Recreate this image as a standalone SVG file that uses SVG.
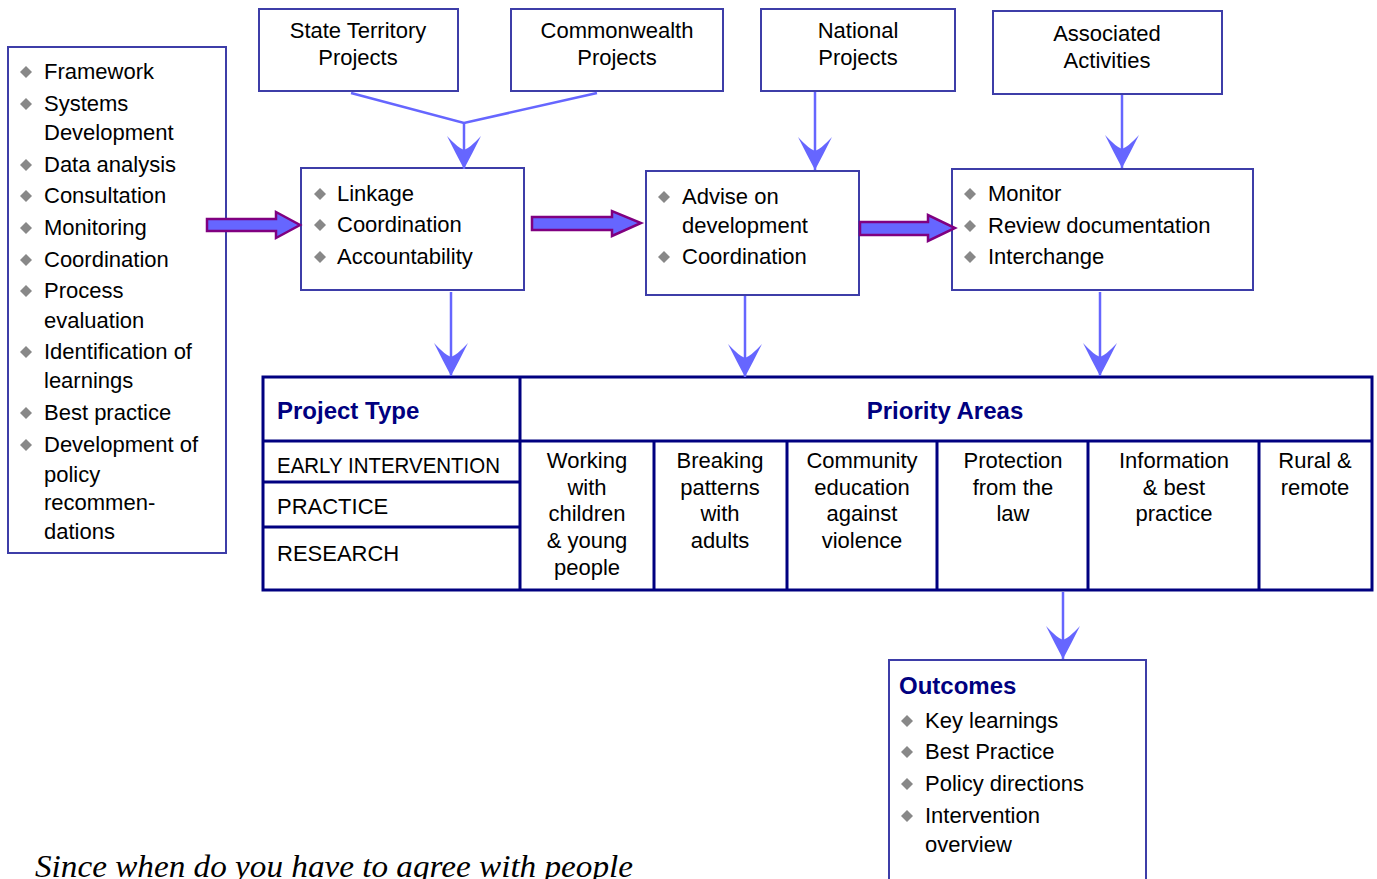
<svg xmlns="http://www.w3.org/2000/svg" width="1377" height="879" viewBox="0 0 1377 879">
<style>
.box{fill:#fff;stroke:#3d3da8;stroke-width:2}
.tbl{fill:none;stroke:#000080;stroke-width:3}
.t{font-family:"Liberation Sans",Arial,sans-serif;font-size:22px;fill:#000}
.c{text-anchor:middle}
.h{font-family:"Liberation Sans",Arial,sans-serif;font-size:24px;font-weight:bold;fill:#000080}
.ln{stroke:#6666ff;stroke-width:2.5;fill:none}
.fat{fill:#6666ff;stroke:#800080;stroke-width:2.5}
.dia{fill:#888}
</style>
<defs>
<path id="d" class="dia" d="M0,-6 L6,0 L0,6 L-6,0 Z"/>
<marker id="ah" markerUnits="userSpaceOnUse" markerWidth="36" markerHeight="36" viewBox="0 0 34 36" refX="33" refY="18" orient="auto">
<path d="M0,1 Q18,10 33,18 Q18,26 0,35 Q12,24 14,18 Q12,12 0,1 Z" fill="#6666ff"/>
</marker>
</defs>

<g id="left-box">
<rect class="box" x="8" y="47" width="218" height="506"/>
<use href="#d" x="26" y="72"/><text class="t" x="44" y="79">Framework</text>
<use href="#d" x="26" y="104"/><text class="t" x="44" y="111">Systems</text>
<text class="t" x="44" y="140">Development</text>
<use href="#d" x="26" y="165"/><text class="t" x="44" y="172">Data analysis</text>
<use href="#d" x="26" y="196"/><text class="t" x="44" y="203">Consultation</text>
<use href="#d" x="26" y="228"/><text class="t" x="44" y="235">Monitoring</text>
<use href="#d" x="26" y="260"/><text class="t" x="44" y="267">Coordination</text>
<use href="#d" x="26" y="291"/><text class="t" x="44" y="298">Process</text>
<text class="t" x="44" y="328">evaluation</text>
<use href="#d" x="26" y="352"/><text class="t" x="44" y="359">Identification of</text>
<text class="t" x="44" y="388">learnings</text>
<use href="#d" x="26" y="413"/><text class="t" x="44" y="420">Best practice</text>
<use href="#d" x="26" y="445"/><text class="t" x="44" y="452">Development of</text>
<text class="t" x="44" y="482">policy</text>
<text class="t" x="44" y="510">recommen-</text>
<text class="t" x="44" y="539">dations</text>
</g>

<g id="state-territory">
<rect class="box" x="259" y="9" width="199" height="82"/>
<text class="t c" x="358" y="38">State Territory</text>
<text class="t c" x="358" y="65">Projects</text>
</g>
<g id="commonwealth">
<rect class="box" x="511" y="9" width="212" height="82"/>
<text class="t c" x="617" y="38">Commonwealth</text>
<text class="t c" x="617" y="65">Projects</text>
</g>
<g id="national">
<rect class="box" x="761" y="9" width="194" height="82"/>
<text class="t c" x="858" y="38">National</text>
<text class="t c" x="858" y="65">Projects</text>
</g>
<g id="associated">
<rect class="box" x="993" y="11" width="229" height="83"/>
<text class="t c" x="1107" y="41">Associated</text>
<text class="t c" x="1107" y="68">Activities</text>
</g>

<g id="box-linkage">
<rect class="box" x="301" y="168" width="223" height="122"/>
<use href="#d" x="320" y="194"/><text class="t" x="337" y="201">Linkage</text>
<use href="#d" x="320" y="225"/><text class="t" x="337" y="232">Coordination</text>
<use href="#d" x="320" y="257"/><text class="t" x="337" y="264">Accountability</text>
</g>
<g id="box-advise">
<rect class="box" x="646" y="171" width="213" height="124"/>
<use href="#d" x="664" y="197"/><text class="t" x="682" y="204">Advise on</text>
<text class="t" x="682" y="233">development</text>
<use href="#d" x="664" y="257"/><text class="t" x="682" y="264">Coordination</text>
</g>
<g id="box-monitor">
<rect class="box" x="952" y="169" width="301" height="121"/>
<use href="#d" x="970" y="194"/><text class="t" x="988" y="201">Monitor</text>
<use href="#d" x="970" y="226"/><text class="t" x="988" y="233">Review documentation</text>
<use href="#d" x="970" y="257"/><text class="t" x="988" y="264">Interchange</text>
</g>

<g id="table">
<rect class="tbl" x="263" y="377" width="1109" height="213"/>
<path class="tbl" d="M263,441 H1372 M520,377 V590 M263,482 H520 M263,527 H520 M654,441 V590 M787,441 V590 M937,441 V590 M1088,441 V590 M1259,441 V590"/>
<text class="h" x="277" y="419">Project Type</text>
<text class="h c" x="945" y="419">Priority Areas</text>
<text class="t" x="277" y="473" textLength="223" lengthAdjust="spacingAndGlyphs">EARLY INTERVENTION</text>
<text class="t" x="277" y="514">PRACTICE</text>
<text class="t" x="277" y="561">RESEARCH</text>
<text class="t c" x="587" y="468">Working</text>
<text class="t c" x="587" y="495">with</text>
<text class="t c" x="587" y="521">children</text>
<text class="t c" x="587" y="548">&amp; young</text>
<text class="t c" x="587" y="575">people</text>
<text class="t c" x="720" y="468">Breaking</text>
<text class="t c" x="720" y="495">patterns</text>
<text class="t c" x="720" y="521">with</text>
<text class="t c" x="720" y="548">adults</text>
<text class="t c" x="862" y="468">Community</text>
<text class="t c" x="862" y="495">education</text>
<text class="t c" x="862" y="521">against</text>
<text class="t c" x="862" y="548">violence</text>
<text class="t c" x="1013" y="468">Protection</text>
<text class="t c" x="1013" y="495">from the</text>
<text class="t c" x="1013" y="521">law</text>
<text class="t c" x="1174" y="468">Information</text>
<text class="t c" x="1174" y="495">&amp;  best</text>
<text class="t c" x="1174" y="521">practice</text>
<text class="t c" x="1315" y="468">Rural &amp;</text>
<text class="t c" x="1315" y="495">remote</text>
</g>

<g id="outcomes">
<rect class="box" x="889" y="660" width="257" height="230"/>
<text class="h" x="899" y="694">Outcomes</text>
<use href="#d" x="907" y="721"/><text class="t" x="925" y="728">Key learnings</text>
<use href="#d" x="907" y="752"/><text class="t" x="925" y="759">Best Practice</text>
<use href="#d" x="907" y="784"/><text class="t" x="925" y="791">Policy directions</text>
<use href="#d" x="907" y="816"/><text class="t" x="925" y="823">Intervention</text>
<text class="t" x="925" y="852">overview</text>
</g>

<g id="connectors">
<path class="ln" d="M351,93 L464,123 L597,93"/>
<path class="ln" d="M464,123 L464,169" marker-end="url(#ah)"/>
<path class="ln" d="M815,92 L815,170" marker-end="url(#ah)"/>
<path class="ln" d="M1122,95 L1122,168" marker-end="url(#ah)"/>
<path class="ln" d="M451,292 L451,376" marker-end="url(#ah)"/>
<path class="ln" d="M745,296 L745,377" marker-end="url(#ah)"/>
<path class="ln" d="M1100,292 L1100,376" marker-end="url(#ah)"/>
<path class="ln" d="M1063,592 L1063,659" marker-end="url(#ah)"/>
<path class="fat" d="M207,219 L276,219 L276,212 L300,225 L276,238 L276,231 L207,231 Z"/>
<path class="fat" d="M532,217 L612,217 L612,211 L641,223 L612,236 L612,230 L532,230 Z"/>
<path class="fat" d="M860,222 L928,222 L928,215 L955,228 L928,241 L928,235 L860,235 Z"/>
</g>

<text x="35" y="877" font-family="Liberation Serif,serif" font-style="italic" font-size="32" textLength="598" lengthAdjust="spacingAndGlyphs">Since when do you have to agree with people</text>
</svg>
